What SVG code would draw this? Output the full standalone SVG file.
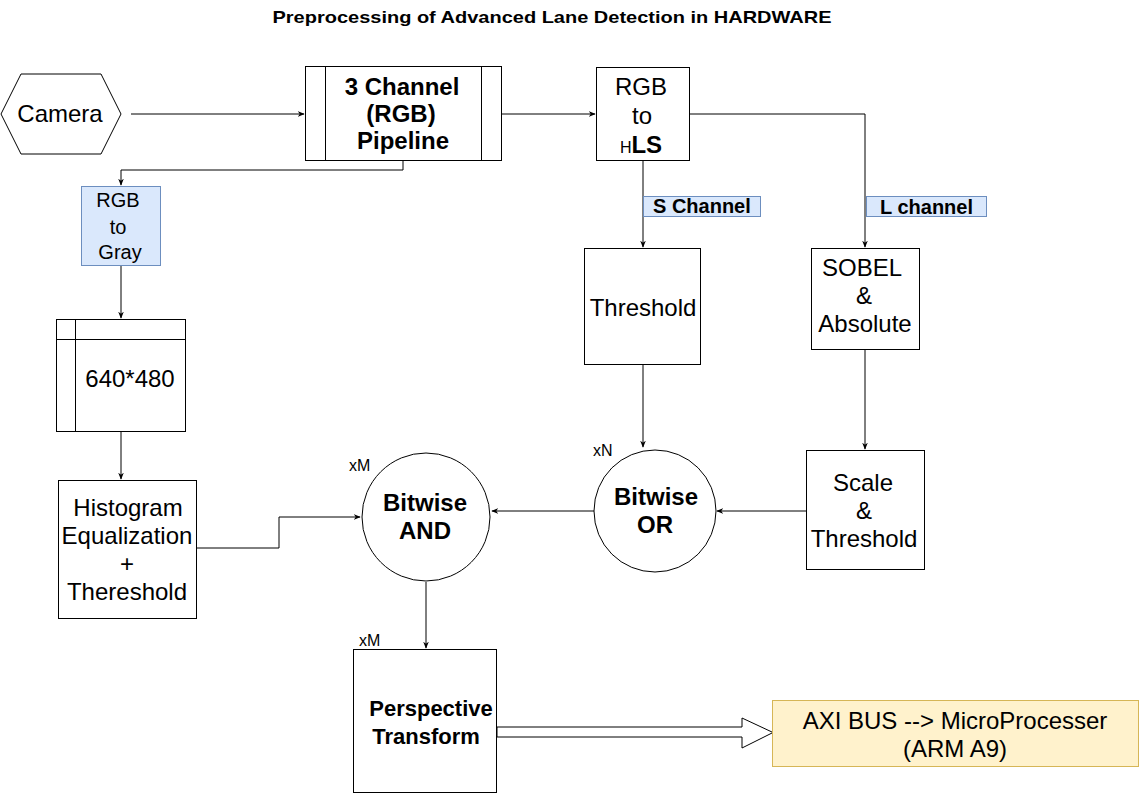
<svg xmlns="http://www.w3.org/2000/svg" width="1139" height="794" viewBox="0 0 1139 794">
<defs>
<style>
text{font-family:"Liberation Sans",Arial,sans-serif;fill:#000;text-anchor:middle}
.t{font-size:24px}
.b{font-size:24px;font-weight:bold}
.s{font-size:16px;text-anchor:start}
.lb{font-size:20px;font-weight:bold;text-anchor:start}
.box{fill:#fff;stroke:#000;stroke-width:1}
.blue{fill:#dae8fc;stroke:#6c8ebf;stroke-width:1}
.ln{fill:none;stroke:#000;stroke-width:1}
</style>
<marker id="ar" viewBox="0 0 10 10" refX="9" refY="5" markerWidth="7" markerHeight="7" orient="auto" markerUnits="userSpaceOnUse">
<path d="M0,1 L10,5 L0,9 L3,5 Z" fill="#000"/>
</marker>
</defs>
<rect width="1139" height="794" fill="#fff"/>
<text x="552" y="23" textLength="559" lengthAdjust="spacingAndGlyphs" style="font-size:17px;font-weight:bold">Preprocessing of Advanced Lane Detection in HARDWARE</text>

<g id="connectors">
<path class="ln" d="M131,114 H304" marker-end="url(#ar)"/>
<path class="ln" d="M501,114 H595" marker-end="url(#ar)"/>
<path class="ln" d="M403,161 V170 H121 V185" marker-end="url(#ar)"/>
<path class="ln" d="M121,266 V318" marker-end="url(#ar)"/>
<path class="ln" d="M121,432 V479" marker-end="url(#ar)"/>
<path class="ln" d="M643,161 V247" marker-end="url(#ar)"/>
<path class="ln" d="M690,114 H865 V247" marker-end="url(#ar)"/>
<path class="ln" d="M643,365 V447" marker-end="url(#ar)"/>
<path class="ln" d="M865,350 V449" marker-end="url(#ar)"/>
<path class="ln" d="M806,511 H717" marker-end="url(#ar)"/>
<path class="ln" d="M595,511 H492" marker-end="url(#ar)"/>
<path class="ln" d="M197,548 H279 V517 H360" marker-end="url(#ar)"/>
<path class="ln" d="M426,582 V648" marker-end="url(#ar)"/>
<path d="M497,727 H742 V718 L773,732.5 L742,748 V737 H497 Z" fill="#fff" stroke="#000" stroke-width="1"/>
</g>

<g id="camera">
<polygon class="box" points="1,114 21,74 101,74 121,114 101,154 21,154"/>
<text class="t" x="60" y="122">Camera</text>
</g>

<g id="pipeline">
<rect class="box" x="305.5" y="66.5" width="196" height="94"/>
<path class="ln" d="M325.5,66.5 V160.5 M481.5,66.5 V160.5"/>
<text class="b" x="402" y="95">3 Channel</text>
<text class="b" x="401" y="122">(RGB)</text>
<text class="b" x="403" y="149">Pipeline</text>
</g>

<g id="rgb2hls">
<rect class="box" x="596.5" y="67.5" width="93" height="93"/>
<text class="t" x="641" y="95">RGB</text>
<text class="t" x="642" y="124">to</text>
<text class="t" x="641" y="153"><tspan style="font-size:16px">H</tspan><tspan font-weight="bold">LS</tspan></text>
</g>

<g id="s-channel-label">
<rect class="blue" x="643.5" y="196.5" width="117" height="20"/>
<text class="lb" x="653" y="213">S Channel</text>
</g>

<g id="l-channel-label">
<rect class="blue" x="866.5" y="196.5" width="120" height="20"/>
<text class="lb" x="880" y="214">L channel</text>
</g>

<g id="rgb2gray">
<rect class="blue" x="81.5" y="186.5" width="79" height="79"/>
<text x="118" y="207" style="font-size:20px">RGB</text>
<text x="118" y="234" style="font-size:20px">to</text>
<text x="120" y="259" style="font-size:20px">Gray</text>
</g>

<g id="buffer">
<rect class="box" x="56.5" y="319.5" width="129" height="112"/>
<path class="ln" d="M75.5,319.5 V431.5 M56.5,339.5 H185.5"/>
<text class="t" x="130" y="387">640*480</text>
</g>

<g id="histogram">
<rect class="box" x="58.5" y="480.5" width="138" height="138"/>
<text class="t" x="128" y="516">Histogram</text>
<text class="t" x="127" y="544">Equalization</text>
<text class="t" x="127" y="572">+</text>
<text class="t" x="127" y="600">Thereshold</text>
</g>

<g id="threshold">
<rect class="box" x="584.5" y="248.5" width="116" height="116"/>
<text class="t" x="643" y="316">Threshold</text>
</g>

<g id="sobel">
<rect class="box" x="811.5" y="248.5" width="108" height="101"/>
<text class="t" x="862" y="276">SOBEL</text>
<text class="t" x="864" y="304">&amp;</text>
<text class="t" x="865" y="332">Absolute</text>
</g>

<g id="scale">
<rect class="box" x="806.5" y="450.5" width="118" height="119"/>
<text class="t" x="863" y="491">Scale</text>
<text class="t" x="864" y="519">&amp;</text>
<text class="t" x="864" y="547">Threshold</text>
</g>

<g id="bitwise-or">
<circle class="box" cx="655" cy="511" r="61"/>
<text class="b" x="656" y="505">Bitwise</text>
<text class="b" x="655" y="533">OR</text>
<text class="s" x="593" y="456">xN</text>
</g>

<g id="bitwise-and">
<circle class="box" cx="426" cy="517" r="64"/>
<text class="b" x="425" y="511">Bitwise</text>
<text class="b" x="425" y="539">AND</text>
<text class="s" x="349" y="471">xM</text>
</g>

<g id="perspective">
<rect class="box" x="353.5" y="649.5" width="143" height="143"/>
<text x="431" y="716" style="font-size:22px;font-weight:bold">Perspective</text>
<text x="426" y="744" style="font-size:22px;font-weight:bold">Transform</text>
<text class="s" x="359" y="646">xM</text>
</g>

<g id="axi">
<rect x="772.5" y="700.5" width="366" height="66" fill="#fff2cc" stroke="#d6b656" stroke-width="1"/>
<text class="t" x="955" y="729">AXI BUS --&gt; MicroProcesser</text>
<text class="t" x="955" y="757">(ARM A9)</text>
</g>
</svg>
